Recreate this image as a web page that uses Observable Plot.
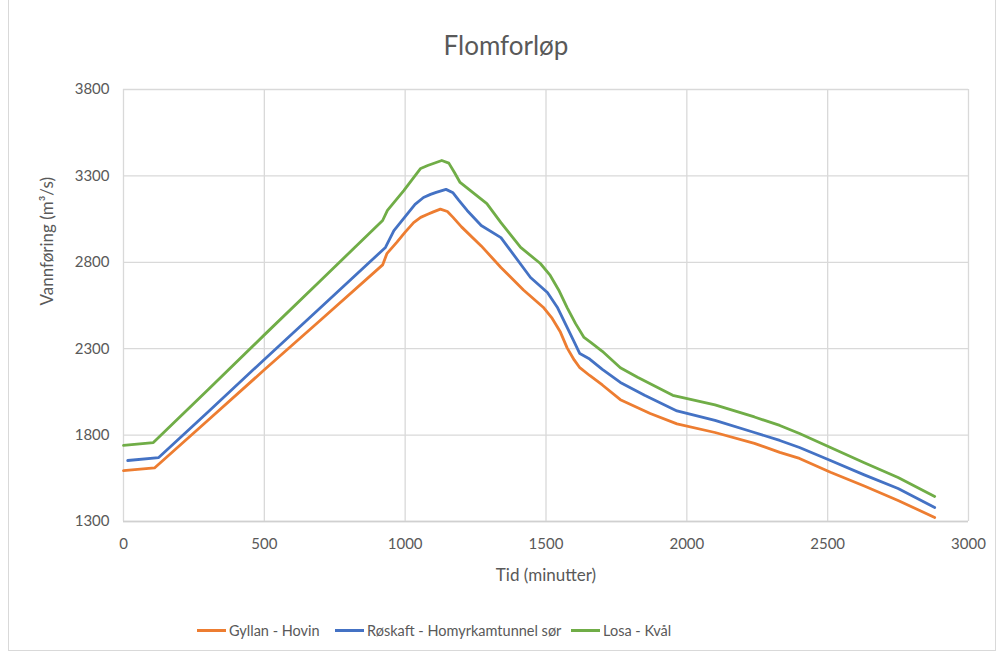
<!DOCTYPE html>
<html>
<head>
<meta charset="utf-8">
<script src="https://cdn.jsdelivr.net/npm/d3@7"></script>
<script src="https://cdn.jsdelivr.net/npm/@observablehq/plot@0.6"></script>
<style>
  html, body { margin: 0; padding: 0; background: #fff; }
  body { width: 1002px; height: 657px; overflow: hidden; font-family: Lato, "Open Sans", sans-serif; color: #595959; }
  #wrap { position: relative; width: 1002px; height: 657px; }
  #frame { position: absolute; left: 8px; top: -1px; width: 988px; height: 652px; border: 1px solid #d9d9d9; box-sizing: border-box; }
  #title { position: absolute; left: 0; top: 29px; width: 1012px; text-align: center; font-size: 26px; color: #595959; }
  #chart { position: absolute; left: 0; top: 70px; }
  #legend { position: absolute; left: 0; top: 622px; width: 1002px; height: 24px; }
  .item { position: absolute; top: 0; display: flex; align-items: center; font-size: 14.5px; color: #595959; white-space: nowrap; }
  .sw { width: 29px; height: 3px; margin-right: 3px; }
</style>
</head>
<body>
<div id="wrap">
  <div id="frame"></div>
  <div id="title">Flomforløp</div>
  <div id="chart"></div>
  <div id="legend"></div>
</div>
<script>
// ---- Data ----
const seriesNames = ["Gyllan - Hovin", "Røskaft - Homyrkamtunnel sør", "Losa - Kvål"];
const seriesColors = ["#ED7D31", "#4472C4", "#70AD47"];

const gyllanTid = [0, 110, 300, 500, 700, 920, 935, 970, 1000, 1030, 1055, 1080, 1100, 1125, 1150, 1170, 1200, 1270, 1340, 1420, 1490, 1520, 1550, 1575, 1600, 1620, 1655, 1700, 1764, 1870, 1965, 2100, 2240, 2330, 2400, 2510, 2630, 2750, 2880];
const gyllanQ   = [1595, 1610, 1886, 2178, 2466, 2785, 2850, 2915, 2975, 3030, 3060, 3078, 3092, 3108, 3094, 3060, 3005, 2895, 2770, 2640, 2540, 2480, 2400, 2305, 2235, 2190, 2145, 2090, 2005, 1925, 1865, 1815, 1752, 1700, 1665, 1585, 1505, 1422, 1323];

const roskaftTid = [15, 125, 300, 500, 700, 930, 960, 1000, 1035, 1065, 1090, 1110, 1145, 1170, 1190, 1220, 1270, 1340, 1445, 1505, 1540, 1575, 1600, 1620, 1655, 1700, 1764, 1850, 1965, 2100, 2240, 2330, 2400, 2510, 2630, 2750, 2880];
const roskaftQ   = [1653, 1670, 1934, 2238, 2538, 2886, 2984, 3065, 3135, 3175, 3193, 3205, 3222, 3202, 3160, 3100, 3013, 2943, 2712, 2625, 2540, 2423, 2340, 2272, 2240, 2180, 2105, 2030, 1940, 1885, 1815, 1769, 1728, 1653, 1570, 1491, 1381];

const losaTid = [0, 106, 300, 500, 700, 920, 937, 995, 1030, 1055, 1080, 1100, 1130, 1155, 1175, 1195, 1290, 1340, 1410, 1480, 1515, 1545, 1575, 1605, 1635, 1660, 1700, 1764, 1825, 1950, 2100, 2240, 2330, 2400, 2510, 2630, 2750, 2880];
const losaQ   = [1740, 1757, 2063, 2380, 2695, 3042, 3100, 3215, 3290, 3343, 3360, 3372, 3389, 3374, 3320, 3262, 3140, 3030, 2886, 2793, 2724, 2640, 2538, 2445, 2365, 2335, 2285, 2190, 2135, 2030, 1975, 1905, 1856, 1809, 1728, 1640, 1555, 1445];

const xTicks = [0, 500, 1000, 1500, 2000, 2500, 3000];
const yTicks = [1300, 1800, 2300, 2800, 3300, 3800];
const xTitle = "Tid (minutter)";
const yTitle = "Vannføring (m³/s)";

// ---- Build rows ----
const tids = [gyllanTid, roskaftTid, losaTid];
const qs = [gyllanQ, roskaftQ, losaQ];
const rows = seriesNames.flatMap((name, i) => tids[i].map((t, j) => ({name, t, q: qs[i][j]})));

const fontFamily = "Lato, 'Open Sans', sans-serif";

const chart = Plot.plot({
  width: 1002,
  height: 530,
  marginTop: 19,
  marginBottom: 79,
  marginLeft: 123,
  marginRight: 34,
  style: {fontFamily, fontSize: "15px", color: "#595959", background: "transparent", overflow: "visible"},
  x: {domain: [0, 3000]},
  y: {domain: [1300, 3800]},
  color: {domain: seriesNames, range: seriesColors},
  marks: [
    Plot.gridX(xTicks, {stroke: "#d9d9d9", strokeOpacity: 1, strokeWidth: 1.3}),
    Plot.gridY(yTicks, {stroke: "#d9d9d9", strokeOpacity: 1, strokeWidth: 1.3}),
    Plot.ruleY([1300], {stroke: "#d0d0d0", strokeWidth: 1.5}),
    Plot.axisX(xTicks, {tickSize: 0, tickPadding: 17, tickFormat: d => String(d), label: null, fontSize: 15}),
    Plot.axisY(yTicks, {tickSize: 0, tickPadding: 14, tickFormat: d => String(d), label: null, fontSize: 15}),
    Plot.text([xTitle], {text: d => d, frameAnchor: "bottom", dy: 59, fontSize: 17, fill: "#595959"}),
    Plot.text([yTitle], {text: d => d, frameAnchor: "left", dx: -76, rotate: -90, fontSize: 17, fill: "#595959"}),
    Plot.line(rows, {x: "t", y: "q", z: "name", stroke: "name", strokeWidth: 2.8, curve: "linear", strokeLinejoin: "round"})
  ]
});
document.getElementById("chart").appendChild(chart);

// ---- Legend ----
const legendX = [197, 335, 571];
const legend = document.getElementById("legend");
seriesNames.forEach((name, i) => {
  const item = document.createElement("div");
  item.className = "item";
  item.style.left = legendX[i] + "px";
  const sw = document.createElement("span");
  sw.className = "sw";
  sw.style.background = seriesColors[i];
  const lab = document.createElement("span");
  lab.textContent = name;
  item.appendChild(sw);
  item.appendChild(lab);
  legend.appendChild(item);
});
</script>
</body>
</html>
